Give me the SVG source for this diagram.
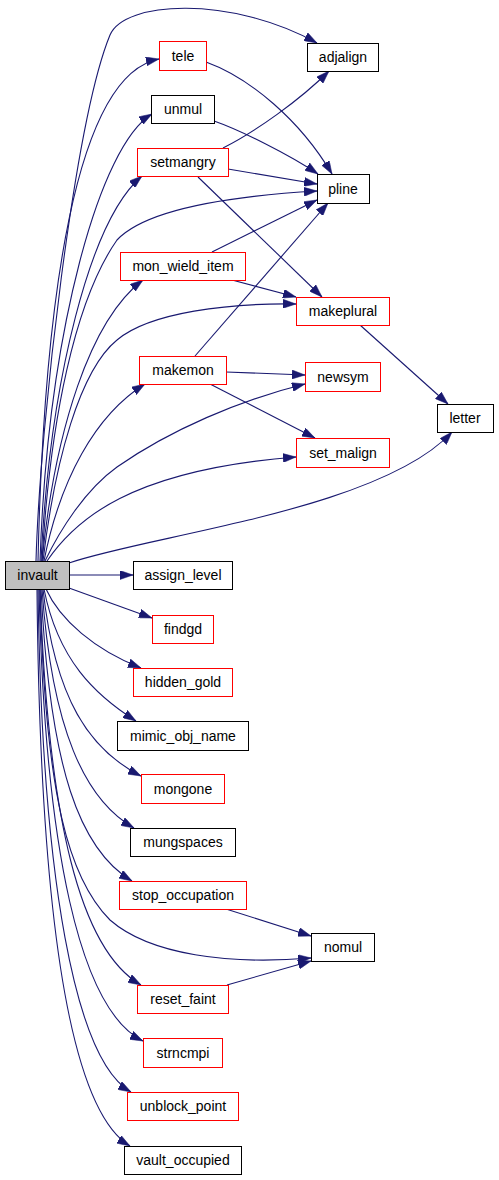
<svg xmlns="http://www.w3.org/2000/svg" width="499" height="1180" viewBox="0 0 499 1180">
<style>
.n rect{fill:#fff;stroke-width:1}
.b rect{stroke:#000}
.r rect{stroke:#ff0000}
.n text{font-family:"Liberation Sans",Arial,sans-serif;font-size:14px;text-anchor:middle;fill:#000}
#edges path{fill:none;stroke:#191970;stroke-width:1.1;marker-end:url(#a)}
</style>
<defs>
<marker id="a" markerWidth="13" markerHeight="9" refX="13" refY="4.5" orient="auto" markerUnits="userSpaceOnUse"><path d="M0,0 L13,4.5 L0,9 Z" fill="#191970" stroke="#191970" stroke-width="0.5"/></marker>
</defs>
<rect width="499" height="1180" fill="#fff"/>
<g id="edges">
<path d="M36,561 C40,420 75,120 110,35 C124,1 230,-5 317,43"/>
<path d="M38,561 C44,300 75,75 159,59"/>
<path d="M40,561 C48,330 100,145 152,114"/>
<path d="M41,561 C50,380 90,220 142,176"/>
<path d="M42,561 C50,420 75,300 117,240 C150,205 250,195 317,191"/>
<path d="M42,561 C55,430 90,320 143,280"/>
<path d="M43,561 C55,460 80,370 117,340 C150,312 230,303 296,304"/>
<path d="M44,561 C60,480 95,415 145,384"/>
<path d="M45,561 C60,530 85,490 117,467 C170,430 240,400 305,384"/>
<path d="M47,561 C75,520 130,470 296,457"/>
<path d="M69,563 C150,535 380,510 452,432"/>
<path d="M69,575 L133,575"/>
<path d="M69,588 L152,618"/>
<path d="M46,589 C60,620 95,650 141,668"/>
<path d="M44,589 C58,660 95,695 136,721"/>
<path d="M43,589 C55,700 90,750 141,776"/>
<path d="M42,589 C52,730 85,800 134,828"/>
<path d="M41,589 C50,770 80,850 132,881"/>
<path d="M40,589 C45,800 70,880 110,920 C150,955 230,965 311,958"/>
<path d="M40,589 C48,820 80,950 141,985"/>
<path d="M39,589 C45,850 80,1010 143,1041"/>
<path d="M38,589 C42,880 75,1060 131,1092"/>
<path d="M37,589 C40,920 70,1110 130,1146"/>
<path d="M206,62 C250,78 300,120 332,174"/>
<path d="M214,121 C240,130 290,155 318,174"/>
<path d="M223,148 C255,132 300,100 329,71"/>
<path d="M228,169 L317,184"/>
<path d="M198,177 L322,297"/>
<path d="M212,252 L317,200"/>
<path d="M232,280 L296,297"/>
<path d="M195,356 L328,203"/>
<path d="M226,372 L305,375"/>
<path d="M210,384 L315,438"/>
<path d="M360,325 L448,404"/>
<path d="M226,909 L311,936"/>
<path d="M227,985 L311,961"/>
</g>
<g id="invault" class="n b"><rect x="5.5" y="561.5" width="64" height="28" style="fill:#bfbfbf"/><text x="37.5" y="580">invault</text></g>
<g id="assign_level" class="n b"><rect x="133.5" y="561.5" width="99" height="28"/><text x="183" y="580">assign_level</text></g>
<g id="findgd" class="n r"><rect x="152.5" y="615.5" width="61" height="28"/><text x="183" y="634">findgd</text></g>
<g id="hidden_gold" class="n r"><rect x="133.5" y="668.5" width="99" height="28"/><text x="183" y="687">hidden_gold</text></g>
<g id="mimic_obj_name" class="n b"><rect x="117.5" y="721.5" width="131" height="29"/><text x="183" y="740.5">mimic_obj_name</text></g>
<g id="mongone" class="n r"><rect x="141.5" y="774.5" width="83" height="29"/><text x="183" y="793.5">mongone</text></g>
<g id="mungspaces" class="n b"><rect x="130.5" y="828.5" width="105" height="28"/><text x="183" y="847">mungspaces</text></g>
<g id="stop_occupation" class="n r"><rect x="119.5" y="881.5" width="127" height="28"/><text x="183" y="900">stop_occupation</text></g>
<g id="nomul" class="n b"><rect x="311.5" y="933.5" width="63" height="28"/><text x="343" y="952">nomul</text></g>
<g id="reset_faint" class="n r"><rect x="137.5" y="985.5" width="91" height="28"/><text x="183" y="1004">reset_faint</text></g>
<g id="strncmpi" class="n r"><rect x="143.5" y="1038.5" width="79" height="29"/><text x="183" y="1057.5">strncmpi</text></g>
<g id="unblock_point" class="n r"><rect x="127.5" y="1092.5" width="111" height="28"/><text x="183" y="1111">unblock_point</text></g>
<g id="vault_occupied" class="n b"><rect x="124.5" y="1146.5" width="117" height="28"/><text x="183" y="1164.5">vault_occupied</text></g>
<g id="tele" class="n r"><rect x="159.5" y="41.5" width="47" height="29"/><text x="183" y="60.5">tele</text></g>
<g id="unmul" class="n b"><rect x="151.5" y="95.5" width="63" height="28"/><text x="183" y="114">unmul</text></g>
<g id="setmangry" class="n r"><rect x="137.5" y="148.5" width="91" height="28"/><text x="183" y="167">setmangry</text></g>
<g id="mon_wield_item" class="n r"><rect x="120.5" y="252.5" width="125" height="28"/><text x="183" y="271">mon_wield_item</text></g>
<g id="makemon" class="n r"><rect x="139.5" y="356.5" width="87" height="28"/><text x="183" y="375">makemon</text></g>
<g id="adjalign" class="n b"><rect x="307.5" y="43.5" width="71" height="28"/><text x="343" y="62">adjalign</text></g>
<g id="pline" class="n b"><rect x="317.5" y="174.5" width="52" height="29"/><text x="343" y="193.5">pline</text></g>
<g id="makeplural" class="n r"><rect x="296.5" y="297.5" width="93" height="28"/><text x="343" y="316">makeplural</text></g>
<g id="newsym" class="n r"><rect x="305.5" y="362.5" width="75" height="29"/><text x="343" y="381.5">newsym</text></g>
<g id="set_malign" class="n r"><rect x="296.5" y="438.5" width="93" height="29"/><text x="343" y="457.5">set_malign</text></g>
<g id="letter" class="n b"><rect x="437.5" y="404.5" width="56" height="28"/><text x="465" y="423">letter</text></g>
</svg>
